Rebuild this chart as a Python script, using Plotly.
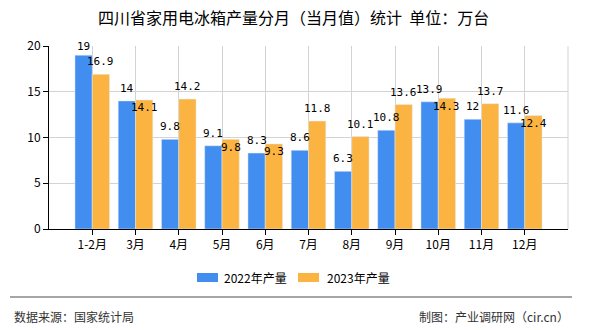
import plotly.graph_objects as go

categories = ["1-2月", "3月", "4月", "5月", "6月", "7月", "8月", "9月", "10月", "11月", "12月"]
v2022 = [19, 14, 9.8, 9.1, 8.3, 8.6, 6.3, 10.8, 13.9, 12, 11.6]
v2023 = [16.9, 14.1, 14.2, 9.8, 9.3, 11.8, 10.1, 13.6, 14.3, 13.7, 12.4]
pos2023 = ["outside", "inside", "outside", "inside", "inside", "outside", "outside", "outside", "inside", "outside", "inside"]
series_names = ["2022年产量", "2023年产量"]
title = "四川省家用电冰箱产量分月（当月值）统计  单位：万台"

W, H = 590, 330
L, R, T, B = 49, 568, 46, 229
YMAX = 20
BLUE = "#428EF0"
ORANGE = "#FBB442"
CJK = "Noto Sans CJK SC"
MONO = "DejaVu Sans Mono"
unit_px = (R - L) / 12.0
bar_off = unit_px * 0.2


def px(x, y):
    return (x - L) / (R - L), (B - y) / (B - T)


fig = go.Figure()
fig.add_trace(go.Bar(x=categories, y=v2022, name=series_names[0], marker_color=BLUE))
fig.add_trace(go.Bar(x=categories, y=v2023, name=series_names[1], marker_color=ORANGE))

shapes = []
annotations = []

# data labels
for vals, positions, sign in [(v2022, ["outside"] * len(v2022), -1), (v2023, pos2023, 1)]:
    for c, v, pos in zip(categories, vals, positions):
        room = (YMAX - v) * (B - T) / YMAX
        ys = min(12.5, room) if pos == "outside" else -8
        annotations.append(dict(text=f"{v:g}", x=c, y=v, xref="x", yref="y", xshift=sign * bar_off,
                                yshift=ys, xanchor="center", yanchor="middle", showarrow=False,
                                font=dict(family=MONO, size=11, color="black")))

# right edge gridline
shapes.append(dict(type="line", xref="paper", yref="paper", x0=1, x1=1, y0=0, y1=1,
                   line=dict(color="#D3D3D3", width=1), layer="below"))
# legend
for name, col, x0, tx in [(series_names[0], BLUE, 197, 222), (series_names[1], ORANGE, 298, 325)]:
    a0 = px(x0, 273)
    a1 = px(x0 + 21, 282)
    shapes.append(dict(type="rect", xref="paper", yref="paper", x0=a0[0], x1=a1[0], y0=a1[1], y1=a0[1],
                       fillcolor=col, line=dict(width=0)))
    p = px(tx, 277.5)
    annotations.append(dict(text=name, xref="paper", yref="paper", x=p[0], y=p[1], xanchor="left",
                            yanchor="middle", showarrow=False, font=dict(family=CJK, size=12, color="black")))
# separator
s0 = px(10, 297)
s1 = px(572, 297)
shapes.append(dict(type="line", xref="paper", yref="paper", x0=s0[0], x1=s1[0], y0=s0[1], y1=s1[1],
                   line=dict(color="#888888", width=1.5)))
# footer
p = px(12, 316)
annotations.append(dict(text="数据来源：国家统计局", xref="paper", yref="paper", x=p[0], y=p[1], xanchor="left",
                        yanchor="middle", showarrow=False, font=dict(family=CJK, size=12, color="#333333")))
p = px(571, 316)
annotations.append(dict(text="制图：产业调研网（cir.cn）", xref="paper", yref="paper", x=p[0], y=p[1], xanchor="right",
                        yanchor="middle", showarrow=False, font=dict(family=CJK, size=12, color="#333333")))
# title
p = px(293, 17)
annotations.append(dict(text=title, xref="paper", yref="paper", x=p[0], y=p[1], xanchor="center",
                        yanchor="middle", showarrow=False, font=dict(family=CJK, size=16, color="black")))

fig.update_layout(
    width=W, height=H,
    margin=dict(l=L, r=W - R, t=T, b=H - B, pad=0),
    paper_bgcolor="white", plot_bgcolor="white",
    barmode="group", bargap=0.2, bargroupgap=0,
    showlegend=False,
    shapes=shapes, annotations=annotations,
    xaxis=dict(type="category", range=[-1, 11], showgrid=True, gridcolor="#D3D3D3", gridwidth=1,
               showline=True, linecolor="black", linewidth=1, ticks="outside", ticklen=5,
               tickcolor="black", tickfont=dict(family=CJK, size=12, color="black"), fixedrange=True),
    yaxis=dict(range=[0, YMAX], dtick=5, showgrid=True, gridcolor="#D3D3D3", gridwidth=1,
               showline=True, linecolor="black", linewidth=1, ticks="outside", ticklen=5,
               tickcolor="black", zeroline=False, tickfont=dict(family=CJK, size=12, color="black"),
               fixedrange=True),
)

fig.write_html("out.html")
